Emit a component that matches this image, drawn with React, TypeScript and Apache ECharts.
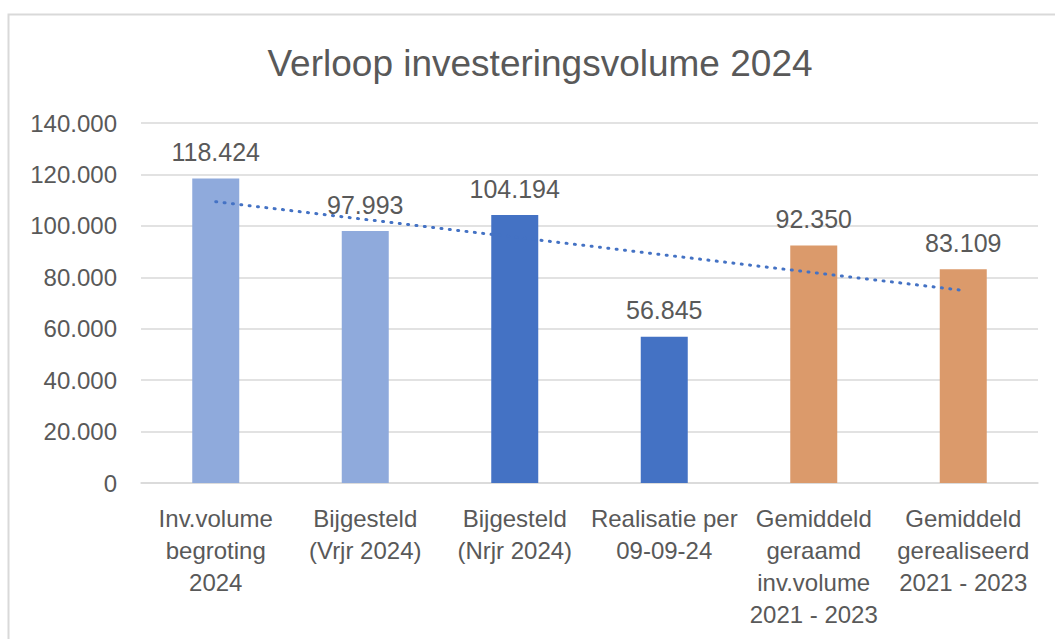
import React, { useEffect, useRef } from "react";
import * as echarts from "echarts";

const categories = [
  "Inv.volume\nbegroting\n2024",
  "Bijgesteld\n(Vrjr 2024)",
  "Bijgesteld\n(Nrjr 2024)",
  "Realisatie per\n09-09-24",
  "Gemiddeld\ngeraamd\ninv.volume\n2021 - 2023",
  "Gemiddeld\ngerealiseerd\n2021 - 2023",
];
const values = [118424, 97993, 104194, 56845, 92350, 83109];
const barColors = ["#8FAADC", "#8FAADC", "#4472C4", "#4472C4", "#DB9A6B", "#DB9A6B"];
const trendValues = [109400, null, null, null, null, 74900];
const yTicks = { min: 0, max: 140000, interval: 20000 };
const titleText = "Verloop investeringsvolume 2024";

const fmt = (v: number) => String(Math.round(v)).replace(/\B(?=(\d{3})+(?!\d))/g, ".");

const FONT = "Liberation Sans, Arial, sans-serif";
const TXT = "#595959";

export default function App() {
  const ref = useRef<HTMLDivElement>(null);
  useEffect(() => {
    if (!ref.current) return;
    const chart = echarts.init(ref.current, undefined, { renderer: "svg" });
    chart.setOption({
      animation: false,
      backgroundColor: "#ffffff",
      textStyle: { fontFamily: FONT },
      graphic: [
        {
          type: "rect",
          shape: { x: 8.5, y: 14.5, width: 1200, height: 800 },
          style: { fill: "none", stroke: "#D9D9D9", lineWidth: 2 },
          silent: true,
        },
        {
          type: "text",
          x: 540,
          y: 63,
          style: {
            text: titleText,
            fontFamily: FONT,
            fontSize: 37,
            fill: TXT,
            textAlign: "center",
            textVerticalAlign: "middle",
          },
          silent: true,
        },
      ],
      grid: { left: 141, right: 17, top: 123, bottom: 156, containLabel: false },
      xAxis: {
        type: "category",
        data: categories,
        axisLine: { lineStyle: { color: "#D9D9D9", width: 1.5 } },
        axisTick: { show: false },
        axisLabel: {
          interval: 0,
          margin: 19,
          fontSize: 24,
          lineHeight: 32,
          color: TXT,
          fontFamily: FONT,
        },
      },
      yAxis: {
        type: "value",
        min: yTicks.min,
        max: yTicks.max,
        interval: yTicks.interval,
        axisLine: { show: false },
        axisTick: { show: false },
        splitLine: { lineStyle: { color: "#D9D9D9", width: 1.5 } },
        axisLabel: {
          margin: 24,
          fontSize: 24,
          color: TXT,
          fontFamily: FONT,
          formatter: (v: number) => fmt(v),
        },
      },
      series: [
        {
          type: "bar",
          barWidth: 47,
          data: values.map((v, i) => ({ value: v, itemStyle: { color: barColors[i] } })),
          label: {
            show: true,
            position: "top",
            distance: 14,
            fontSize: 25,
            color: TXT,
            fontFamily: FONT,
            formatter: (p: any) => fmt(p.value),
          },
        },
        {
          type: "line",
          data: trendValues,
          connectNulls: true,
          symbol: "none",
          silent: true,
          lineStyle: { color: "#4472C4", width: 3, type: [1, 7.4], cap: "round" },
          z: 5,
        },
      ],
    });
    return () => chart.dispose();
  }, []);
  return (
    <div
      ref={ref}
      style={{ position: "absolute", left: 0, top: 0, width: 1055, height: 639 }}
    />
  );
}
